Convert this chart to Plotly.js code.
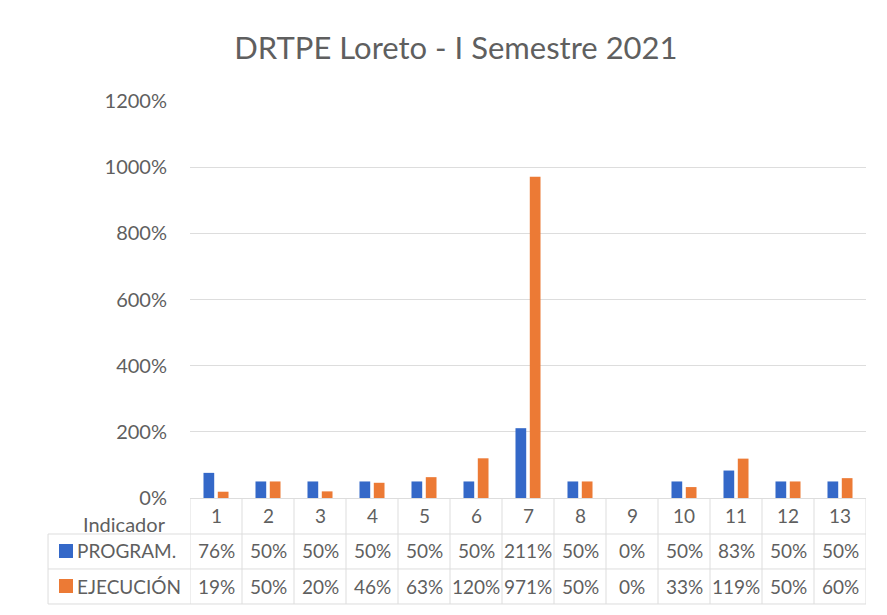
<!DOCTYPE html>
<html>
<head>
<meta charset="utf-8">
<script src="https://cdn.plot.ly/plotly-3.0.1.min.js"></script>
<style>html,body{margin:0;padding:0;background:#fff;}#chart{width:887px;height:615px;}</style>
</head>
<body>
<div id="chart"></div>
<script>
const categories = [1,2,3,4,5,6,7,8,9,10,11,12,13];
const programado = [0.76,0.50,0.50,0.50,0.50,0.50,2.11,0.50,0.00,0.50,0.83,0.50,0.50];
const ejecucion  = [0.19,0.50,0.20,0.46,0.63,1.20,9.71,0.50,0.00,0.33,1.19,0.50,0.60];
const seriesNames = ['PROGRAM.','EJECUCIÓN'];
const yTicks = [0,2,4,6,8,10,12];

const FONT = 'Lato, "Open Sans", sans-serif';
const TXT = '#5f5f5f';
const BLUE = '#3468C8';
const ORANGE = '#EC7A35';
const GRID = '#DDDDDD';

const pct = v => Math.round(v*100) + '%';

const traces = [
  {type:'bar', x:categories, y:programado, name:seriesNames[0], marker:{color:BLUE}, hoverinfo:'skip'},
  {type:'bar', x:categories, y:ejecucion, name:seriesNames[1], marker:{color:ORANGE}, hoverinfo:'skip'}
];

// table geometry (paper coords)
const yRowHeader = -0.045, yRowP = -0.1335, yRowE = -0.2217;
const yLine1 = -0.0907, yLine2 = -0.1788, yLine3 = -0.267;
const xLeft = -0.21;

const shapes = [];
[yLine1, yLine2, yLine3].forEach(y => shapes.push({type:'line', xref:'paper', yref:'paper', x0:xLeft, x1:1, y0:y, y1:y, line:{color:GRID, width:1}}));
shapes.push({type:'line', xref:'paper', yref:'paper', x0:xLeft, x1:xLeft, y0:yLine1, y1:yLine3, line:{color:GRID, width:1}});
for (let k = 0; k <= categories.length; k++) {
  shapes.push({type:'line', xref:'x', yref:'paper', x0:k+0.5, x1:k+0.5, y0:0, y1:yLine3, line:{color:GRID, width:1}});
}
// legend keys
shapes.push({type:'rect', xref:'paper', yref:'paper', x0:-0.1938, x1:-0.1731, y0:-0.1159, y1:-0.1511, fillcolor:BLUE, line:{width:0}});
shapes.push({type:'rect', xref:'paper', yref:'paper', x0:-0.1938, x1:-0.1731, y0:-0.204, y1:-0.2393, fillcolor:ORANGE, line:{width:0}});

const annotations = [];
const f = {family:FONT, size:19, color:TXT};
categories.forEach((c,i) => {
  annotations.push({xref:'x', yref:'paper', x:c, y:yRowHeader, text:String(c), showarrow:false, font:f, xanchor:'center', yanchor:'middle'});
  annotations.push({xref:'x', yref:'paper', x:c, y:yRowP, text:pct(programado[i]), showarrow:false, font:f, xanchor:'center', yanchor:'middle'});
  annotations.push({xref:'x', yref:'paper', x:c, y:yRowE, text:pct(ejecucion[i]), showarrow:false, font:f, xanchor:'center', yanchor:'middle'});
});
annotations.push({xref:'paper', yref:'paper', x:-0.0325, y:-0.0655, text:'Indicador', showarrow:false, font:{family:FONT, size:20, color:TXT}, xanchor:'right', yanchor:'middle'});
annotations.push({xref:'paper', yref:'paper', x:-0.170, y:yRowP, text:seriesNames[0], showarrow:false, font:f, xanchor:'left', yanchor:'middle'});
annotations.push({xref:'paper', yref:'paper', x:-0.170, y:yRowE, text:seriesNames[1], showarrow:false, font:f, xanchor:'left', yanchor:'middle'});

const layout = {
  width:887, height:615,
  paper_bgcolor:'#fff', plot_bgcolor:'#fff',
  margin:{l:190, r:21, t:101, b:117},
  title:{text:'DRTPE Loreto - I Semestre 2021', x:0.514, xanchor:'center', y:0.922, yanchor:'middle', font:{family:FONT, size:31, color:TXT}},
  barmode:'group', bargap:0.45, bargroupgap:0.25,
  showlegend:false,
  xaxis:{range:[0.5,13.5], showticklabels:false, showgrid:false, zeroline:false, showline:false, ticks:'', fixedrange:true},
  yaxis:{range:[0,12], tickvals:yTicks, ticktext:yTicks.map(pct), showgrid:true, gridcolor:GRID, gridwidth:1,
         zeroline:true, zerolinecolor:GRID, zerolinewidth:1, showline:false, ticks:'', ticklabelstandoff:22,
         tickfont:{family:FONT, size:20, color:TXT}, fixedrange:true},
  shapes:shapes,
  annotations:annotations,
  font:{family:FONT, color:TXT}
};

Plotly.newPlot('chart', traces, layout, {staticPlot:true, displayModeBar:false});
</script>
</body>
</html>
